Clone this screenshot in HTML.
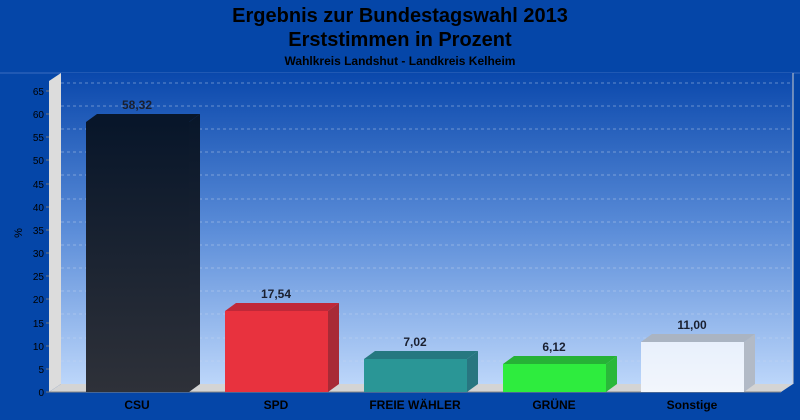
<!DOCTYPE html>
<html><head><meta charset="utf-8"><style>
html,body{margin:0;padding:0;background:#0546a8;}
svg{display:block;font-family:"Liberation Sans",Arial,sans-serif;}
</style></head><body>
<svg width="800" height="420" viewBox="0 0 800 420" xmlns="http://www.w3.org/2000/svg">
<defs>
<linearGradient id="bg" x1="0" y1="0" x2="0" y2="1">
<stop offset="0" stop-color="#0a48ac"/><stop offset="0.5" stop-color="#5a8cd8"/><stop offset="1" stop-color="#bcd6fa"/></linearGradient>
<linearGradient id="csu" x1="0" y1="0" x2="0" y2="1">
<stop offset="0" stop-color="#08162a"/><stop offset="1" stop-color="#2e3139"/></linearGradient>
<linearGradient id="son" x1="0" y1="0" x2="0" y2="1">
<stop offset="0" stop-color="#e8f0fc"/><stop offset="1" stop-color="#f2f6fc"/></linearGradient>
</defs>
<rect width="800" height="420" fill="#0546a8"/>
<line x1="0" y1="73" x2="800" y2="73" stroke="#3a6cc0" stroke-width="1"/>
<text x="400" y="22" text-anchor="middle" font-size="20" font-weight="bold" fill="#000">Ergebnis zur Bundestagswahl 2013</text>
<text x="400" y="46" text-anchor="middle" font-size="20" font-weight="bold" fill="#000">Erststimmen in Prozent</text>
<text x="400" y="65" text-anchor="middle" font-size="12" font-weight="bold" fill="#000">Wahlkreis Landshut - Landkreis Kelheim</text>
<!-- back plane -->
<rect x="61" y="73" width="732" height="311" fill="url(#bg)"/>
<line x1="793" y1="73" x2="793" y2="384" stroke="#ccc"/>
<g stroke="#c8d8f0" stroke-dasharray="3,3" stroke-width="1" opacity="0.45">
<line x1="61" y1="83" x2="793" y2="83"/><line x1="61" y1="106" x2="793" y2="106"/>
<line x1="61" y1="129" x2="793" y2="129"/><line x1="61" y1="152" x2="793" y2="152"/>
<line x1="61" y1="175" x2="793" y2="175"/><line x1="61" y1="199" x2="793" y2="199"/>
<line x1="61" y1="222" x2="793" y2="222"/><line x1="61" y1="245" x2="793" y2="245"/>
<line x1="61" y1="268" x2="793" y2="268"/><line x1="61" y1="291" x2="793" y2="291"/>
<line x1="61" y1="314" x2="793" y2="314"/><line x1="61" y1="338" x2="793" y2="338"/>
<line x1="61" y1="361" x2="793" y2="361"/>
</g>
<!-- left wall -->
<polygon points="49,81 61,73 61,384 49,392" fill="#dcdcdc"/>
<!-- floor -->
<polygon points="49,392 61,384 793,384 781,392" fill="#d4d4d4"/>
<line x1="49" y1="392" x2="781" y2="392" stroke="#888"/>
<g stroke="#777">
<line x1="46" y1="392" x2="49" y2="392"/><line x1="46" y1="369" x2="49" y2="369"/>
<line x1="46" y1="346" x2="49" y2="346"/><line x1="46" y1="323" x2="49" y2="323"/>
<line x1="46" y1="299" x2="49" y2="299"/><line x1="46" y1="276" x2="49" y2="276"/>
<line x1="46" y1="253" x2="49" y2="253"/><line x1="46" y1="230" x2="49" y2="230"/>
<line x1="46" y1="207" x2="49" y2="207"/><line x1="46" y1="184" x2="49" y2="184"/>
<line x1="46" y1="160" x2="49" y2="160"/><line x1="46" y1="137" x2="49" y2="137"/>
<line x1="46" y1="114" x2="49" y2="114"/><line x1="46" y1="91" x2="49" y2="91"/>
</g>
<!-- y axis ticks -->
<g font-size="10" fill="#000" text-anchor="end">
<text x="44" y="396">0</text><text x="44" y="373">5</text><text x="44" y="350">10</text>
<text x="44" y="327">15</text><text x="44" y="303">20</text><text x="44" y="280">25</text>
<text x="44" y="257">30</text><text x="44" y="234">35</text><text x="44" y="211">40</text>
<text x="44" y="188">45</text><text x="44" y="164">50</text><text x="44" y="141">55</text>
<text x="44" y="118">60</text><text x="44" y="95">65</text>
</g>
<text x="22" y="233" font-size="11" fill="#000" transform="rotate(-90 22 233)" text-anchor="middle">%</text>
<!-- bars -->
<g>
<polygon points="86,122 97,114 200,114 189,122" fill="#08162a"/>
<polygon points="189,122 200,114 200,384 189,392" fill="url(#csu)"/>
<rect x="86" y="122" width="103" height="270" fill="url(#csu)"/>
<polygon points="225,311 236,303 339,303 328,311" fill="#c02838"/>
<polygon points="328,311 339,303 339,384 328,392" fill="#a82a36"/>
<rect x="225" y="311" width="103" height="81" fill="#e8323e"/>
<polygon points="364,359 375,351 478,351 467,359" fill="#267880"/>
<polygon points="467,359 478,351 478,384 467,392" fill="#287680"/>
<rect x="364" y="359" width="103" height="33" fill="#2a9696"/>
<polygon points="503,364 514,356 617,356 606,364" fill="#26b236"/>
<polygon points="606,364 617,356 617,384 606,392" fill="#2ab83a"/>
<rect x="503" y="364" width="103" height="28" fill="#2eec3e"/>
<polygon points="641,342 652,334 755,334 744,342" fill="#aab4c2"/>
<polygon points="744,342 755,334 755,384 744,392" fill="#b2bac6"/>
<rect x="641" y="342" width="103" height="50" fill="url(#son)"/>
</g>
<g font-size="12" font-weight="bold" fill="#1a2030" text-anchor="middle">
<text x="137" y="109">58,32</text><text x="276" y="298">17,54</text>
<text x="415" y="346">7,02</text><text x="554" y="351">6,12</text>
<text x="692" y="329">11,00</text>
</g>
<g font-size="12" font-weight="bold" fill="#000" text-anchor="middle">
<text x="137" y="409">CSU</text><text x="276" y="409">SPD</text>
<text x="415" y="409">FREIE WÄHLER</text><text x="554" y="409">GRÜNE</text>
<text x="692" y="409">Sonstige</text>
</g>
</svg>
</body></html>
